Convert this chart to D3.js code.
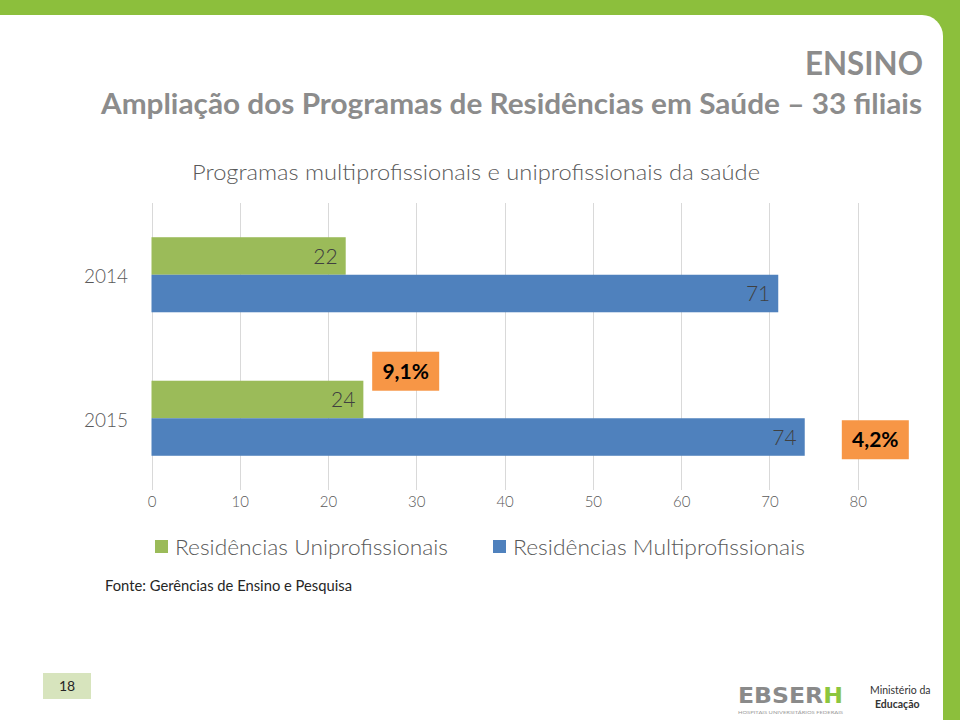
<!DOCTYPE html>
<html>
<head>
<meta charset="utf-8">
<script src="https://cdn.jsdelivr.net/npm/d3@7"></script>
<style>
  html, body { margin: 0; padding: 0; background: #8cbf3c; }
  svg { display: block; }
</style>
</head>
<body>
<svg id="chart" width="960" height="720"></svg>
<script>
// ---- data ----
const categories = ["2014", "2015"];
const seriesNames = ["Residências Uniprofissionais", "Residências Multiprofissionais"];
const uniValues = [22, 24];
const multiValues = [71, 74];
const xTicks = [0, 10, 20, 30, 40, 50, 60, 70, 80];
const growthLabels = ["9,1%", "4,2%"];          // growth 2014 -> 2015
const growthSeries = ["uni", "multi"];
const growthAt = [25, 78.2];                     // x position in data units

const titleTop = "ENSINO";
const titleMain = "Ampliação dos Programas de Residências em Saúde – 33 filiais";
const chartTitle = "Programas multiprofissionais e uniprofissionais da saúde";
const sourceText = "Fonte: Gerências de Ensino e Pesquisa";
const pageNumber = "18";

// ---- styles ----
const C = {
  green: "#9bbb59", blue: "#4f81bd", orange: "#f79646",
  frame: "#8cbf3c", grid: "#d9d9d9", axisText: "#595959",
  label: "#404040", title: "#8c8c8c"
};
const FONT = "Lato, 'Open Sans', sans-serif";

const svg = d3.select("#chart");

function fit(sel, w) {
  sel.each(function() {
    const len = this.getComputedTextLength();
    if (len > 0) d3.select(this).attr("textLength", w).attr("lengthAdjust", "spacingAndGlyphs");
  });
  return sel;
}

// ---- frame ----
svg.append("rect").attr("x", 0).attr("y", 0).attr("width", 960).attr("height", 720).attr("fill", C.frame);
svg.append("path")
  .attr("d", "M0,15 H922 A21,21 0 0 1 943,36 V720 H0 Z")
  .attr("fill", "#ffffff");

// ---- titles ----
fit(svg.append("text").attr("x", 923).attr("y", 75).attr("text-anchor", "end")
  .attr("font-family", FONT).attr("font-weight", 700).attr("font-size", 33)
  .attr("fill", C.title).text(titleTop), 118);
fit(svg.append("text").attr("x", 922).attr("y", 114).attr("text-anchor", "end")
  .attr("font-family", FONT).attr("font-weight", 700).attr("font-size", 29)
  .attr("fill", C.title).text(titleMain), 821);
fit(svg.append("text").attr("x", 192).attr("y", 180).attr("text-anchor", "start")
  .attr("font-family", FONT).attr("font-weight", 300).attr("font-size", 21)
  .attr("fill", C.axisText).text(chartTitle), 568);

// ---- scales ----
const x = d3.scaleLinear().domain([0, 80]).range([151.5, 857.7]);
const y = d3.scaleBand().domain(categories).range([203, 490]).paddingInner(0.477).paddingOuter(0.2385);
const ySub = d3.scaleBand().domain(["uni", "multi"]).range([0, y.bandwidth()]);

// gridlines
svg.append("g").selectAll("line").data(xTicks).join("line")
  .attr("x1", d => Math.round(x(d)) + 0.5).attr("x2", d => Math.round(x(d)) + 0.5)
  .attr("y1", 203).attr("y2", 490)
  .attr("stroke", C.grid).attr("stroke-width", 1);

// x axis labels via d3 axis
const xAxis = svg.append("g").attr("transform", "translate(0,496)")
  .call(d3.axisBottom(x).tickValues(xTicks).tickSize(0).tickPadding(0).tickFormat(d3.format("d")));
xAxis.select(".domain").remove();
xAxis.selectAll("text").attr("font-family", FONT).attr("font-weight", 300)
  .attr("font-size", 15).attr("fill", C.axisText).attr("dy", "0.71em");

// y axis labels
const yAxis = svg.append("g").attr("transform", "translate(128,0)")
  .call(d3.axisLeft(y).tickSize(0).tickPadding(0));
yAxis.select(".domain").remove();
yAxis.selectAll("text").attr("font-family", FONT).attr("font-weight", 300)
  .attr("font-size", 19).attr("fill", C.axisText).attr("dy", "0.35em")
  .attr("transform", "translate(0,2)");

// bars
const rows = categories.map((c, i) => ({ cat: c, uni: uniValues[i], multi: multiValues[i] }));
const seriesKeys = ["uni", "multi"];
const colors = { uni: C.green, multi: C.blue };

const groups = svg.append("g").selectAll("g").data(rows).join("g")
  .attr("transform", d => `translate(0,${y(d.cat)})`);

groups.selectAll("rect").data(d => seriesKeys.map(k => ({ key: k, value: d[k] }))).join("rect")
  .attr("x", x(0))
  .attr("y", d => ySub(d.key))
  .attr("width", d => x(d.value) - x(0))
  .attr("height", ySub.bandwidth())
  .attr("fill", d => colors[d.key]);

groups.selectAll("text.val").data(d => seriesKeys.map(k => ({ key: k, value: d[k] }))).join("text")
  .attr("class", "val")
  .attr("x", d => x(d.value) - 8)
  .attr("y", d => ySub(d.key) + ySub.bandwidth() / 2)
  .attr("dy", "0.36em")
  .attr("text-anchor", "end")
  .attr("font-family", FONT).attr("font-weight", 300).attr("font-size", 21)
  .attr("fill", C.label)
  .text(d => d.value);

// growth annotation boxes (for 2015)
const lastCat = categories[categories.length - 1];
const ann = growthLabels.map((t, i) => ({ text: t, key: growthSeries[i], at: growthAt[i] }));
const annG = svg.append("g").selectAll("g").data(ann).join("g")
  .attr("transform", d => {
    const top = y(lastCat) + ySub(d.key);
    const yy = d.key === "uni" ? top - 29 : top + 2;
    return `translate(${x(d.at)},${yy})`;
  });
annG.append("rect").attr("width", 67).attr("height", 39).attr("fill", C.orange);
annG.append("text").attr("x", 33.5).attr("y", 19.5).attr("dy", "0.36em")
  .attr("text-anchor", "middle").attr("font-family", FONT).attr("font-weight", 700)
  .attr("font-size", 21).attr("fill", "#000").text(d => d.text);

// legend
const legendX = [155, 493];
const legendTextW = [273, 292];
const legend = svg.append("g").selectAll("g").data(seriesNames).join("g")
  .attr("transform", (d, i) => `translate(${legendX[i]},540)`);
legend.append("rect").attr("width", 13).attr("height", 13)
  .attr("fill", (d, i) => i === 0 ? C.green : C.blue);
legend.append("text").attr("x", 20).attr("y", 7).attr("dy", "0.36em")
  .attr("font-family", FONT).attr("font-weight", 300).attr("font-size", 21)
  .attr("fill", C.axisText).text(d => d)
  .each(function(d, i) { fit(d3.select(this), legendTextW[i]); });

// source
fit(svg.append("text").attr("x", 105).attr("y", 591)
  .attr("font-family", FONT).attr("font-size", 14.5).attr("fill", "#262626")
  .text(sourceText), 247);

// page number
svg.append("rect").attr("x", 43).attr("y", 673).attr("width", 48).attr("height", 26).attr("fill", "#d7e4bd");
svg.append("text").attr("x", 67).attr("y", 686).attr("dy", "0.36em").attr("text-anchor", "middle")
  .attr("font-family", FONT).attr("font-size", 14).attr("fill", "#262626").text(pageNumber);

// logos
const logo = svg.append("text").attr("x", 738).attr("y", 703)
  .attr("font-family", "'DejaVu Sans', sans-serif").attr("font-weight", 700).attr("font-size", 22);
logo.append("tspan").attr("fill", "#8a8a8a").text("EBSER");
logo.append("tspan").attr("fill", "#8cc63f").text("H");
fit(logo, 105);
fit(svg.append("text").attr("x", 738).attr("y", 714)
  .attr("font-family", FONT).attr("font-size", 4.5).attr("fill", "#9a9a9a")
  .text("HOSPITAIS UNIVERSITÁRIOS FEDERAIS"), 105);
svg.append("text").attr("x", 870).attr("y", 694)
  .attr("font-family", FONT).attr("font-size", 10.5).attr("fill", "#333").text("Ministério da");
svg.append("text").attr("x", 875).attr("y", 708)
  .attr("font-family", FONT).attr("font-weight", 700).attr("font-size", 10.5).attr("fill", "#333").text("Educação");
</script>
</body>
</html>
